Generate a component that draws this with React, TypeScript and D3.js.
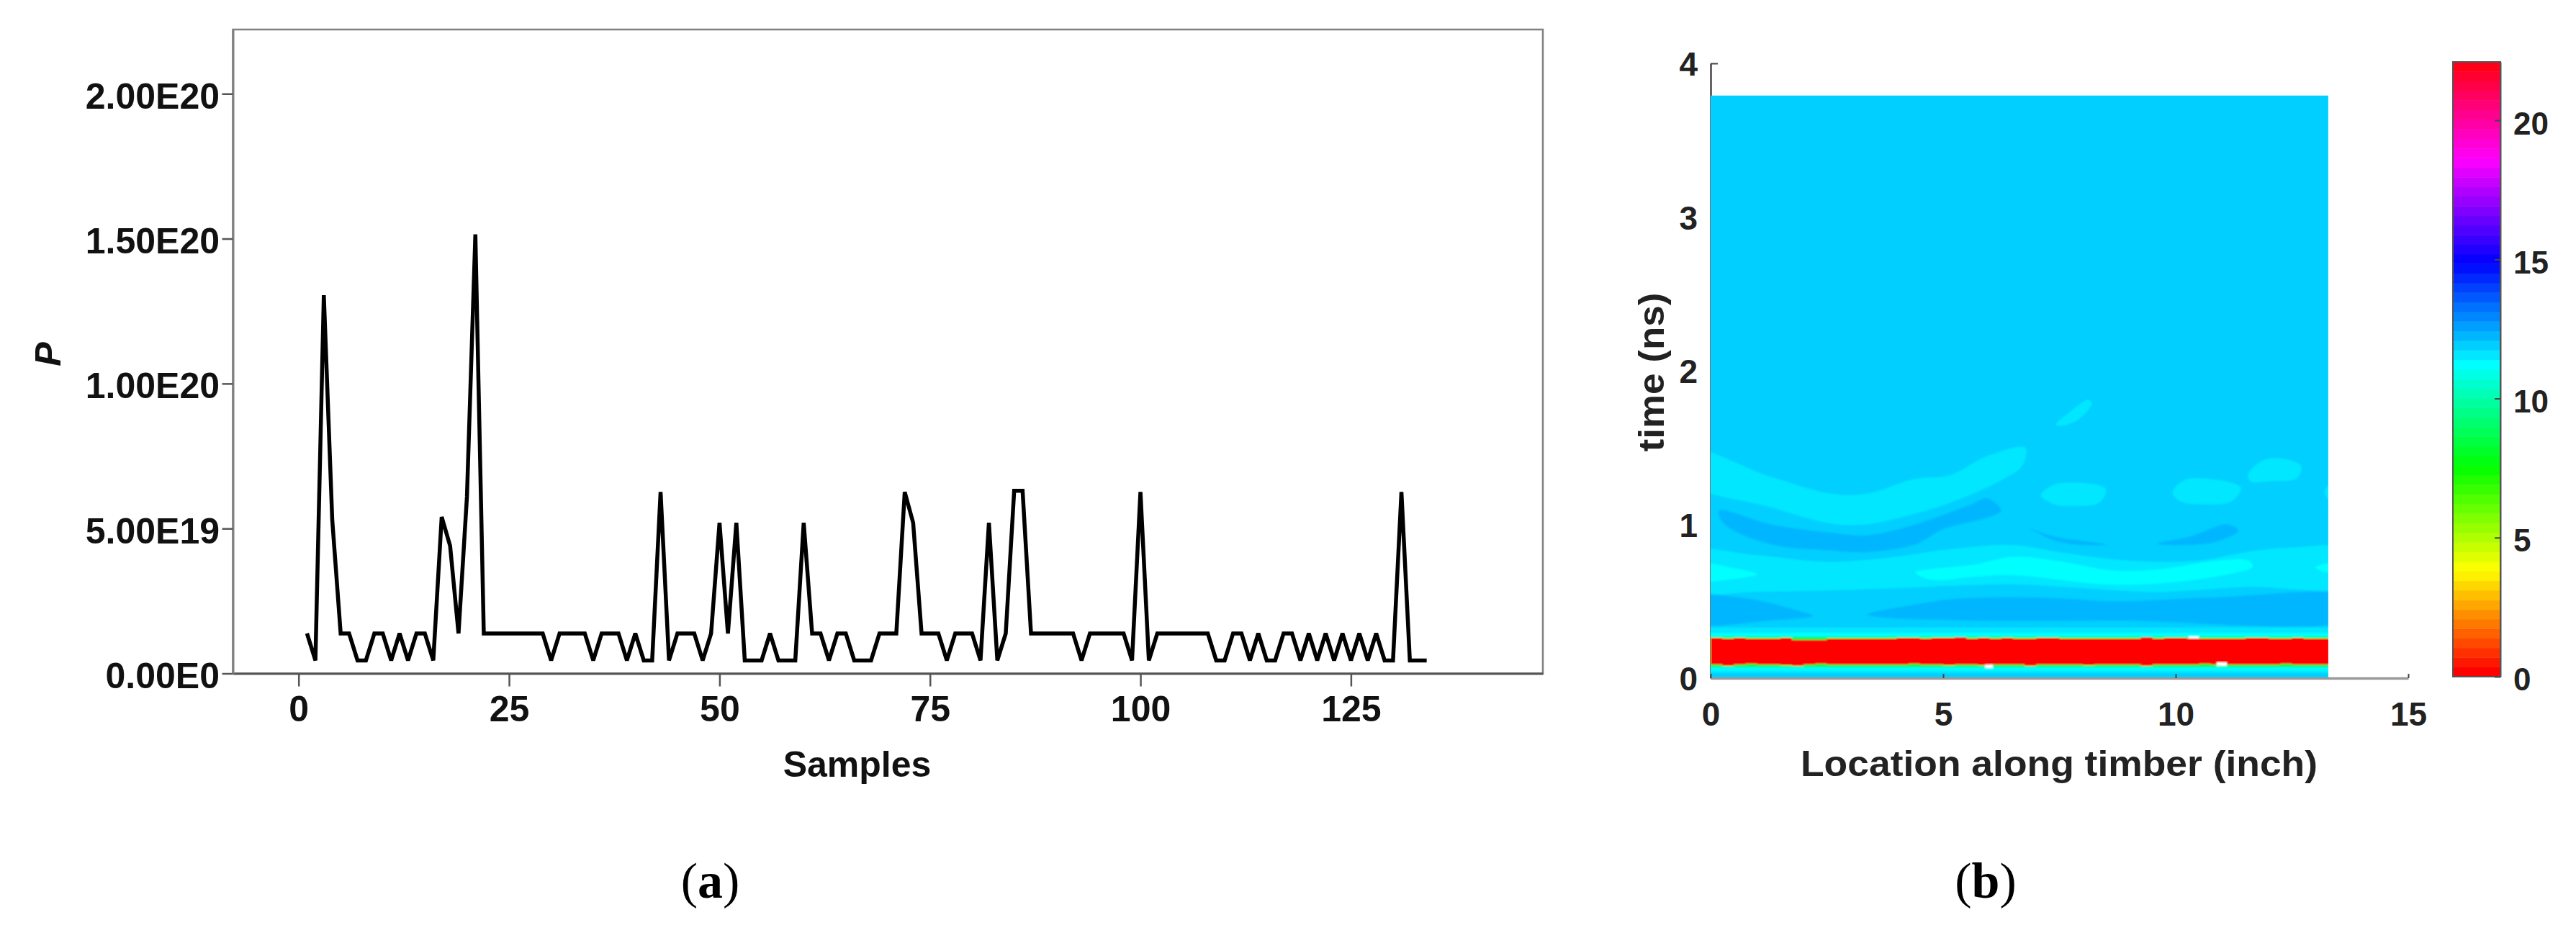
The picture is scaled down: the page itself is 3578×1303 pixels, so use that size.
import React, { useEffect, useRef } from 'react';
import * as d3 from 'd3';

const pageWidth = 3578;
const pageHeight = 1303;
const sansFont = '"Liberation Sans", Arial, sans-serif';
const serifFont = '"Liberation Serif", "Times New Roman", serif';

// panel (a): P per sample, in units of 1E19, samples start at 1
const pValues = [
  1.38, 0.45, 13.05, 5.3, 1.38, 1.38, 0.45, 0.45, 1.38, 1.38,
  0.45, 1.38, 0.45, 1.38, 1.38, 0.45, 5.4, 4.4, 1.38, 6.1,
  15.15, 1.38, 1.38, 1.38, 1.38, 1.38, 1.38, 1.38, 1.38, 0.45,
  1.38, 1.38, 1.38, 1.38, 0.45, 1.38, 1.38, 1.38, 0.45, 1.38,
  0.45, 0.45, 6.26, 0.45, 1.38, 1.38, 1.38, 0.45, 1.38, 5.2,
  1.38, 5.2, 0.45, 0.45, 0.45, 1.38, 0.45, 0.45, 0.45, 5.2,
  1.38, 1.38, 0.45, 1.38, 1.38, 0.45, 0.45, 0.45, 1.38, 1.38,
  1.38, 6.26, 5.2, 1.38, 1.38, 1.38, 0.45, 1.38, 1.38, 1.38,
  0.45, 5.2, 0.45, 1.38, 6.3, 6.3, 1.38, 1.38, 1.38, 1.38,
  1.38, 1.38, 0.45, 1.38, 1.38, 1.38, 1.38, 1.38, 0.45, 6.26,
  0.45, 1.38, 1.38, 1.38, 1.38, 1.38, 1.38, 1.38, 0.45, 0.45,
  1.38, 1.38, 0.45, 1.38, 0.45, 0.45, 1.38, 1.38, 0.45, 1.38,
  0.45, 1.38, 0.45, 1.38, 0.45, 1.38, 0.45, 1.38, 0.45, 0.45,
  6.26, 0.45, 0.45, 0.45,
];
const sampleTicks = [0, 25, 50, 75, 100, 125];
const pTicks = [0, 5, 10, 15, 20];
const pTickLabels = ['0.00E0', '5.00E19', '1.00E20', '1.50E20', '2.00E20'];

// panel (b): values of the contour levels seen in the picture
const baseLevel = 11.9;
const lightLevel = 11.5;
const cyanLevel = 11.2;
const darkLevel = 12.2;
const tealLevel = 10.7;
const greenLevel = 8.5;
const redLevel = 0.1;

// contour outlines as [inch, ns]
const lowerLight = [
  [-0.5, 0.82], [1, 0.8], [2.5, 0.757], [4, 0.79], [5, 0.835], [6.5, 0.867], [7.5, 0.82],
  [9, 0.765], [10.5, 0.765], [11.5, 0.82], [12.5, 0.85], [13.8, 0.835],
  [13.8, 0.61], [11.5, 0.593], [9.5, 0.56], [8, 0.585], [6.5, 0.61], [4, 0.585], [2.5, 0.57], [1, 0.562], [-0.5, 0.57],
];
const cyanLeft = [[-0.5, 0.75], [0.5, 0.715], [1, 0.675], [0.5, 0.645], [-0.5, 0.64]];
const cyanMiddle = [
  [4.4, 0.687], [5.7, 0.74], [6.5, 0.79], [7.4, 0.765], [8.7, 0.7], [9.7, 0.71], [10.7, 0.757], [11.56, 0.765],
  [11.66, 0.726], [11.2, 0.68], [9.7, 0.617], [8.5, 0.61], [6.5, 0.67], [5.7, 0.66], [4.75, 0.64],
];
const cyanRight = [[13, 0.72], [13.3, 0.75], [13.7, 0.75], [13.7, 0.69], [13.3, 0.685]];
const darkLowLeft = [
  [-0.5, 0.523], [0.8, 0.517], [1.8, 0.445], [2.2, 0.406], [1.3, 0.375], [-0.5, 0.367],
];
const darkLowRight = [
  [3.37, 0.414], [4.35, 0.476], [5.24, 0.515], [7.2, 0.523], [8.7, 0.5], [10.67, 0.523], [13.8, 0.523],
  [13.8, 0.39], [8.7, 0.375], [5.5, 0.375], [3.6, 0.398],
];
const archLight = [
  [-0.5, 1.49], [1.3, 1.31], [2.6, 1.2], [3.36, 1.2], [4.4, 1.297], [5.14, 1.32], [5.96, 1.447], [6.77, 1.5],
  [6.7, 1.38], [6.33, 1.3], [5.24, 1.15], [4.4, 1.07], [3.36, 1.0], [2.6, 1.005], [1.3, 1.11], [-0.5, 1.28],
];
const archDark = [
  [0.18, 1.09], [1.3, 1.0], [2.6, 0.946], [3.36, 0.93], [4.4, 1.0], [5.6, 1.13], [5.95, 1.17], [6.25, 1.09],
  [5.9, 1.04], [5, 0.97], [4.4, 0.87], [3.36, 0.82], [2.6, 0.83], [1.3, 0.87], [0.3, 1.0],
];
const blobA = [[7.1, 1.19], [7.4, 1.26], [8, 1.27], [8.5, 1.23], [8.35, 1.14], [7.8, 1.12], [7.4, 1.13]];
const blobB = [[9.93, 1.21], [10.2, 1.29], [10.6, 1.3], [11.4, 1.24], [11.2, 1.15], [10.6, 1.13], [10.1, 1.15]];
const blobC = [[11.56, 1.33], [11.9, 1.42], [12.3, 1.43], [12.7, 1.38], [12.6, 1.3], [12, 1.28], [11.6, 1.28]];
const blobD = [[13.2, 1.21], [13.3, 1.26], [13.5, 1.21], [13.3, 1.16]];
const blobE = [[7.42, 1.65], [7.8, 1.75], [8.1, 1.81], [8.2, 1.79], [7.9, 1.68], [7.5, 1.64]];
const darkSmallA = [[6.87, 0.97], [7.4, 0.92], [8.5, 0.87], [8, 0.865], [7.4, 0.895], [7, 0.95]];
const darkSmallB = [[9.6, 0.875], [10.3, 0.92], [11.1, 1.0], [11.35, 0.96], [10.9, 0.89], [10.2, 0.865]];

const contourRegions: [number, number[][]][] = [
  [lightLevel, lowerLight],
  [cyanLevel, cyanLeft],
  [cyanLevel, cyanMiddle],
  [cyanLevel, cyanRight],
  [darkLevel, darkLowLeft],
  [darkLevel, darkLowRight],
  [lightLevel, archLight],
  [darkLevel, archDark],
  [lightLevel, blobA],
  [lightLevel, blobB],
  [lightLevel, blobC],
  [lightLevel, blobD],
  [lightLevel, blobE],
  [darkLevel, darkSmallA],
  [darkLevel, darkSmallB],
];

// flat strata around the reflection: level, from ns, to ns
const strata = [
  [lightLevel, 0.033, 0.33],
  [cyanLevel, 0.05, 0.295],
  [tealLevel, 0.066, 0.272],
  [greenLevel, 0.076, 0.266],
];

// edges of the strong reflection, one value per quarter inch
const redTop = [
  0.262, 0.258, 0.262, 0.258, 0.258, 0.258, 0.262, 0.25, 0.25, 0.25,
  0.258, 0.258, 0.258, 0.258, 0.258, 0.258, 0.262, 0.262, 0.258, 0.262,
  0.262, 0.266, 0.258, 0.262, 0.258, 0.262, 0.258, 0.258, 0.262, 0.262,
  0.258, 0.258, 0.258, 0.258, 0.258, 0.258, 0.258, 0.266, 0.258, 0.262,
  0.262, 0.258, 0.258, 0.258, 0.258, 0.258, 0.262, 0.262, 0.258, 0.258,
  0.262, 0.258, 0.258, 0.258, 0.258,
];
const redBottom = [
  0.088, 0.08, 0.088, 0.092, 0.088, 0.088, 0.084, 0.08, 0.088, 0.092,
  0.088, 0.088, 0.088, 0.088, 0.088, 0.088, 0.088, 0.092, 0.088, 0.088,
  0.084, 0.088, 0.088, 0.084, 0.088, 0.088, 0.088, 0.08, 0.088, 0.088,
  0.088, 0.088, 0.084, 0.088, 0.088, 0.088, 0.088, 0.08, 0.088, 0.088,
  0.088, 0.088, 0.092, 0.088, 0.088, 0.088, 0.088, 0.088, 0.088, 0.092,
  0.088, 0.088, 0.088, 0.088, 0.088,
];
// missing cells in the contour: from inch, to inch, from ns, to ns
const whiteSpecks = [
  [10.28, 10.5, 0.258, 0.272],
  [5.9, 6.07, 0.066, 0.088],
  [10.88, 11.1, 0.08, 0.103],
];

const locationTicks = [0, 5, 10, 15];
const timeTicks = [0, 1, 2, 3, 4];
const colorTicks = [0, 5, 10, 15, 20];
const colorMax = 22.1;
const colorSteps = 64;

// hsv style colormap with 64 steps
const levelColor = (v: number) => {
  const k = Math.min(colorSteps - 1, Math.floor((v / colorMax) * colorSteps));
  return d3.hsl((k * 360) / colorSteps, 1, 0.5).formatHex();
};

function App() {
  const svgRef = useRef<SVGSVGElement>(null);

  useEffect(() => {
    const svg = d3.select(svgRef.current);
    svg.selectAll('*').remove();

    // ---- panel (a)
    const x = d3.scaleLinear().domain([-7.8, 147.8]).range([323.5, 2143]);
    const y = d3.scaleLinear().domain([0, 22.216]).range([935.5, 41]);

    svg
      .append('rect')
      .attr('x', x.range()[0])
      .attr('y', y.range()[1])
      .attr('width', x.range()[1] - x.range()[0])
      .attr('height', y.range()[0] - y.range()[1])
      .attr('fill', 'none')
      .attr('stroke', '#808080')
      .attr('stroke-width', 2.5);

    const line = d3
      .line<number>()
      .x((d, i) => x(i + 1))
      .y((d) => y(d));

    svg
      .append('path')
      .datum(pValues)
      .attr('d', line)
      .attr('fill', 'none')
      .attr('stroke', '#000')
      .attr('stroke-width', 5.5)
      .attr('stroke-linejoin', 'miter')
      .attr('stroke-miterlimit', 3);

    const xAxis = svg
      .append('g')
      .attr('transform', `translate(0, ${y(0)})`)
      .call(d3.axisBottom(x).tickValues(sampleTicks).tickSizeOuter(0).tickSizeInner(18).tickPadding(13));

    const yAxis = svg
      .append('g')
      .attr('transform', `translate(${x.range()[0]}, 0)`)
      .call(
        d3
          .axisLeft(y)
          .tickValues(pTicks)
          .tickSizeOuter(0)
          .tickSizeInner(15)
          .tickPadding(3.5)
          .tickFormat((d, i) => pTickLabels[i]),
      );

    [xAxis, yAxis].forEach((a) => {
      a.selectAll('text')
        .attr('font-family', sansFont)
        .attr('font-weight', 'bold')
        .attr('font-size', 50)
        .attr('fill', '#111');
      a.selectAll('line').attr('stroke', '#555').attr('stroke-width', 2.5);
      a.select('.domain').attr('stroke', '#555').attr('stroke-width', 3);
    });
    yAxis.selectAll('text').attr('dy', '0.4em');
    yAxis.select('.domain').attr('stroke', '#808080');

    svg
      .append('text')
      .attr('x', (x(50) + x(75)) / 2 + 45)
      .attr('y', 1079)
      .attr('text-anchor', 'middle')
      .attr('font-family', sansFont)
      .attr('font-weight', 'bold')
      .attr('font-size', 50)
      .attr('fill', '#111')
      .text('Samples');

    svg
      .append('text')
      .attr('transform', 'translate(84, 492) rotate(-90)')
      .attr('text-anchor', 'middle')
      .attr('font-family', sansFont)
      .attr('font-weight', 'bold')
      .attr('font-style', 'italic')
      .attr('font-size', 50)
      .attr('fill', '#111')
      .text('P');

    // ---- panel (b)
    const xHeat = d3.scaleLinear().domain([0, 15]).range([2376, 3345]);
    const yHeat = d3.scaleLinear().domain([0, 4]).range([942, 88]);
    const heatEnd = 13.28;
    const heatTop = 3.79;

    const timeAxis = svg
      .append('g')
      .attr('transform', `translate(${xHeat(0)}, 0)`)
      .call(
        d3
          .axisLeft(yHeat)
          .tickValues(timeTicks)
          .tickFormat(d3.format('d'))
          .tickSizeOuter(0)
          .tickSizeInner(-10)
          .tickPadding(18),
      );

    const defs = svg.append('defs');
    defs
      .append('clipPath')
      .attr('id', 'heat-clip')
      .append('rect')
      .attr('x', xHeat(0))
      .attr('y', yHeat(heatTop))
      .attr('width', xHeat(heatEnd) - xHeat(0))
      .attr('height', yHeat(0) - yHeat(heatTop));
    defs.append('filter').attr('id', 'soft').append('feGaussianBlur').attr('stdDeviation', 0.8);

    const heat = svg.append('g').attr('clip-path', 'url(#heat-clip)').append('g').attr('filter', 'url(#soft)');

    heat
      .append('rect')
      .attr('x', xHeat(-1))
      .attr('y', yHeat(4))
      .attr('width', xHeat(15) - xHeat(0))
      .attr('height', yHeat(-1) - yHeat(4))
      .attr('fill', levelColor(baseLevel));

    const outline = d3
      .line<number[]>()
      .x((d) => xHeat(d[0]))
      .y((d) => yHeat(d[1]))
      .curve(d3.curveCatmullRomClosed.alpha(0.5));

    contourRegions.forEach(([level, points]) => {
      heat.append('path').attr('d', outline(points)).attr('fill', levelColor(level));
    });

    strata.forEach(([level, t0, t1]) => {
      heat
        .append('rect')
        .attr('x', xHeat(-1))
        .attr('y', yHeat(t1))
        .attr('width', xHeat(15) - xHeat(0))
        .attr('height', yHeat(t0) - yHeat(t1))
        .attr('fill', levelColor(level));
    });

    const redArea = d3
      .area<number>()
      .x((d, i) => xHeat(i * 0.25))
      .y0((d, i) => yHeat(redBottom[i]))
      .y1((d) => yHeat(d))
      .curve(d3.curveStepAfter);

    heat
      .append('path')
      .datum(redTop)
      .attr('d', redArea)
      .attr('fill', levelColor(redLevel));

    whiteSpecks.forEach(([x0, x1, t0, t1]) => {
      heat
        .append('rect')
        .attr('x', xHeat(x0))
        .attr('y', yHeat(t1))
        .attr('width', xHeat(x1) - xHeat(x0))
        .attr('height', yHeat(t0) - yHeat(t1))
        .attr('fill', '#fff');
    });

    const locationAxis = svg
      .append('g')
      .attr('transform', `translate(0, ${yHeat(0)})`)
      .call(d3.axisBottom(xHeat).tickValues(locationTicks).tickSizeOuter(0).tickSizeInner(-6).tickPadding(33));

    [timeAxis, locationAxis].forEach((a) => {
      a.selectAll('text')
        .attr('font-family', sansFont)
        .attr('font-weight', 'bold')
        .attr('font-size', 46)
        .attr('fill', '#222');
      a.selectAll('line').attr('stroke', '#444').attr('stroke-width', 2);
      a.select('.domain').attr('stroke', '#444').attr('stroke-width', 2.5);
    });
    timeAxis.selectAll('text').attr('dy', '0.36em');
    locationAxis.select('.domain').attr('stroke', '#999').attr('stroke-width', 3.5);

    svg
      .append('text')
      .attr('x', 2860)
      .attr('y', 1078)
      .attr('text-anchor', 'middle')
      .attr('font-family', sansFont)
      .attr('font-weight', 'bold')
      .attr('font-size', 50)
      .attr('fill', '#222')
      .attr('textLength', 718)
      .attr('lengthAdjust', 'spacingAndGlyphs')
      .text('Location along timber (inch)');

    svg
      .append('text')
      .attr('transform', 'translate(2311, 517) rotate(-90)')
      .attr('text-anchor', 'middle')
      .attr('font-family', sansFont)
      .attr('font-weight', 'bold')
      .attr('font-size', 50)
      .attr('fill', '#222')
      .attr('textLength', 221)
      .attr('lengthAdjust', 'spacingAndGlyphs')
      .text('time (ns)');

    // ---- colorbar
    const yColor = d3.scaleLinear().domain([0, colorMax]).range([940, 86]);
    const barLeft = 3407;
    const barRight = 3473;
    const bandStep = colorMax / colorSteps;

    svg
      .append('g')
      .selectAll('rect')
      .data(d3.range(colorSteps))
      .enter()
      .append('rect')
      .attr('x', barLeft)
      .attr('width', barRight - barLeft)
      .attr('y', (d) => yColor((d + 1) * bandStep))
      .attr('height', (d) => yColor(d * bandStep) - yColor((d + 1) * bandStep) + 0.5)
      .attr('fill', (d) => levelColor((d + 0.5) * bandStep));

    svg
      .append('rect')
      .attr('x', barLeft)
      .attr('y', yColor(colorMax))
      .attr('width', barRight - barLeft)
      .attr('height', yColor(0) - yColor(colorMax))
      .attr('fill', 'none')
      .attr('stroke', '#555')
      .attr('stroke-width', 2);

    const colorAxis = svg
      .append('g')
      .attr('transform', `translate(${barRight}, 0)`)
      .call(d3.axisRight(yColor).tickValues(colorTicks).tickSizeOuter(0).tickSizeInner(-8).tickPadding(18));

    colorAxis
      .selectAll('text')
      .attr('font-family', sansFont)
      .attr('font-weight', 'bold')
      .attr('font-size', 44)
      .attr('fill', '#222')
      .attr('dy', '0.43em');
    colorAxis.selectAll('line').attr('stroke', '#444').attr('stroke-width', 2);
    colorAxis.select('.domain').attr('stroke', '#555').attr('stroke-width', 2);

    // ---- panel captions
    const captions = [
      { letter: 'a', at: 986.5 },
      { letter: 'b', at: 2758 },
    ];
    captions.forEach(({ letter, at }) => {
      const t = svg
        .append('text')
        .attr('x', at)
        .attr('y', 1247)
        .attr('text-anchor', 'middle')
        .attr('font-family', serifFont)
        .attr('font-size', 70)
        .attr('fill', '#000');
      t.append('tspan').text('(');
      t.append('tspan').attr('font-weight', 'bold').text(letter);
      t.append('tspan').text(')');
    });
  }, []);

  return (
    <svg
      ref={svgRef}
      width={pageWidth}
      height={pageHeight}
      style={{ position: 'absolute', left: 0, top: 0, background: '#fff' }}
    />
  );
}

export default App;
